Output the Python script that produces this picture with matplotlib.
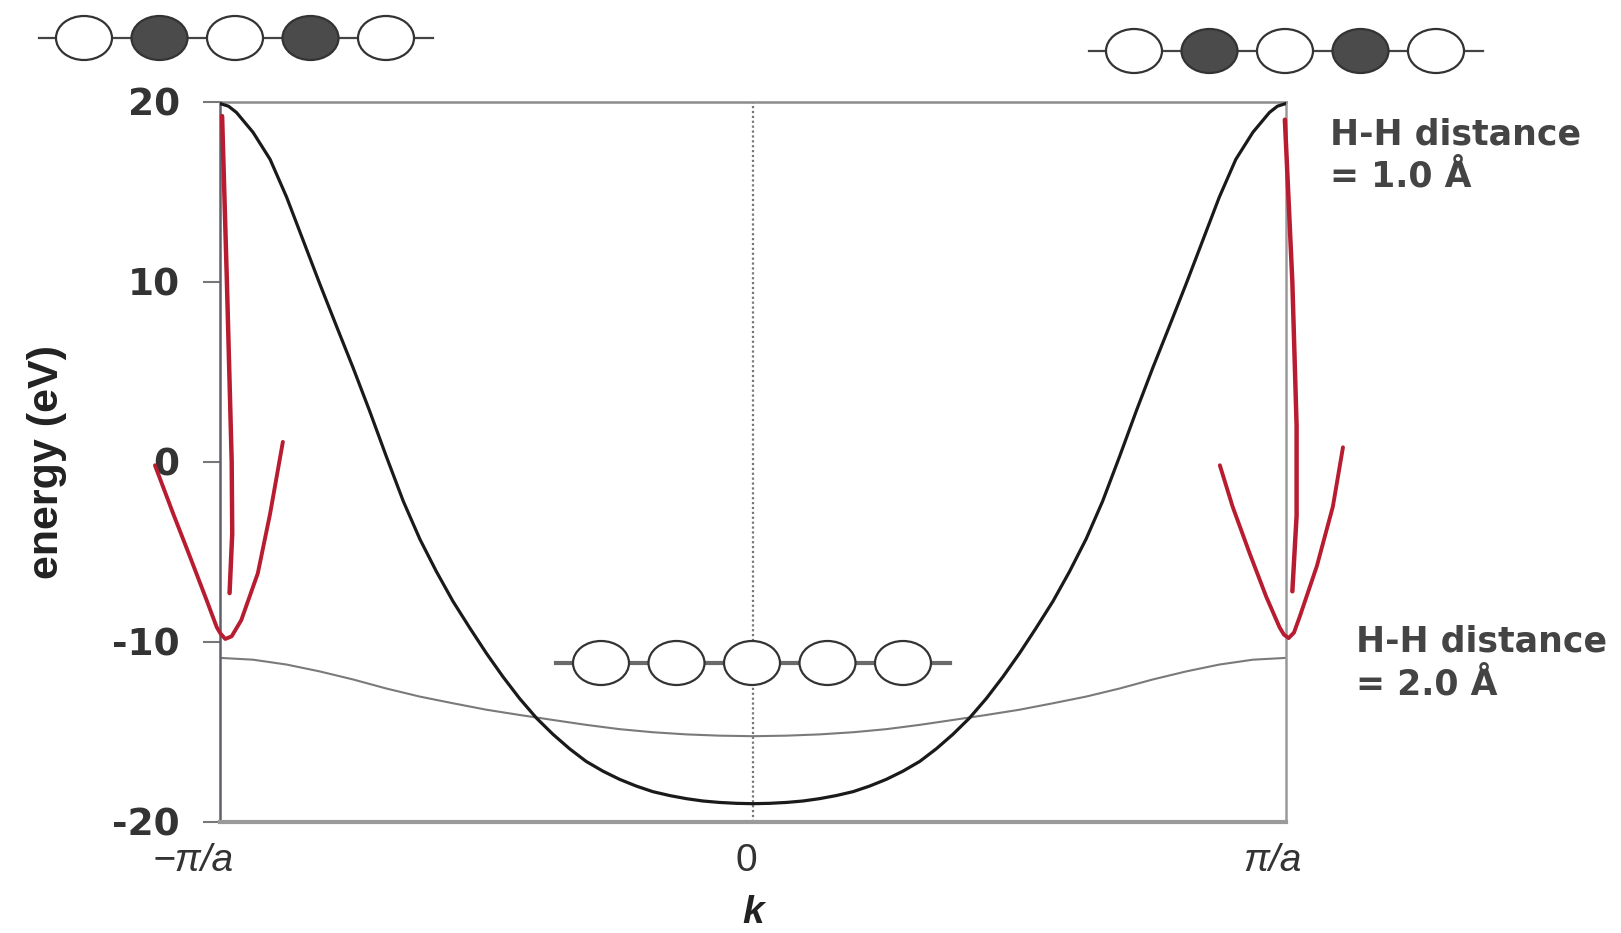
import numpy as np
import matplotlib.pyplot as plt
from matplotlib.patches import Ellipse
from matplotlib.transforms import ScaledTranslation

# band energies (eV) vs k in units of pi/a
k_black = [-1.0, -0.984, -0.969, -0.938, -0.906, -0.875, -0.844, -0.813, -0.781,
           -0.75, -0.719, -0.688, -0.656, -0.625, -0.594, -0.563, -0.531, -0.5,
           -0.469, -0.438, -0.406, -0.375, -0.344, -0.313, -0.281, -0.25, -0.219,
           -0.188, -0.156, -0.125, -0.094, -0.063, -0.031, 0.0,
           0.031, 0.063, 0.094, 0.125, 0.156, 0.188, 0.219, 0.25, 0.281, 0.313,
           0.344, 0.375, 0.406, 0.438, 0.469, 0.5, 0.531, 0.563, 0.594, 0.625,
           0.656, 0.688, 0.719, 0.75, 0.781, 0.813, 0.844, 0.875, 0.906, 0.938,
           0.969, 0.984, 1.0]
E_black = [19.9, 19.75, 19.4, 18.3, 16.8, 14.7, 12.3, 9.9, 7.5,
           5.2, 2.8, 0.3, -2.2, -4.3, -6.1, -7.75, -9.25, -10.65,
           -11.95, -13.15, -14.25, -15.15, -15.95, -16.65, -17.2, -17.65, -18.02,
           -18.33, -18.55, -18.72, -18.85, -18.93, -18.98, -19.0,
           -18.98, -18.93, -18.85, -18.72, -18.55, -18.33, -18.02, -17.65, -17.2, -16.65,
           -15.95, -15.15, -14.25, -13.15, -11.95, -10.65, -9.25, -7.75, -6.1, -4.3,
           -2.2, 0.3, 2.8, 5.2, 7.5, 9.9, 12.3, 14.7, 16.8, 18.3,
           19.4, 19.75, 19.9]

k_gray = [-1.0, -0.938, -0.875, -0.813, -0.75, -0.688, -0.625, -0.563, -0.5,
          -0.438, -0.375, -0.313, -0.25, -0.188, -0.125, -0.063, 0.0,
          0.063, 0.125, 0.188, 0.25, 0.313, 0.375, 0.438, 0.5,
          0.563, 0.625, 0.688, 0.75, 0.813, 0.875, 0.938, 1.0]
E_gray = [-10.9, -11.0, -11.27, -11.65, -12.1, -12.6, -13.05, -13.42, -13.78,
          -14.07, -14.35, -14.62, -14.86, -15.03, -15.15, -15.22, -15.25,
          -15.22, -15.15, -15.03, -14.86, -14.62, -14.35, -14.07, -13.78,
          -13.42, -13.05, -12.6, -12.1, -11.65, -11.27, -11.0, -10.9]

# red hand-drawn arrows at the zone edges (shaft + V head)
shaftL_k = [-0.996, -0.987, -0.978, -0.977, -0.982]
shaftL_E = [19.2, 10.0, 0.0, -4.0, -7.3]
headL_k = [-1.122, -1.088, -1.056, -1.025, -1.006, -0.999, -0.99, -0.978, -0.96, -0.929, -0.906, -0.882]
headL_E = [-0.2, -2.87, -5.3, -7.7, -9.2, -9.55, -9.85, -9.7, -8.8, -6.2, -2.9, 1.1]
shaftR_k = [0.998, 1.012, 1.02, 1.02, 1.012]
shaftR_E = [19.0, 10.0, 2.0, -3.0, -7.2]
headR_k = [0.876, 0.90, 0.932, 0.963, 0.988, 0.996, 1.005, 1.015, 1.026, 1.058, 1.088, 1.107]
headR_E = [-0.2, -2.5, -5.1, -7.5, -9.2, -9.6, -9.8, -9.5, -8.6, -5.8, -2.5, 0.8]

yticks = [20, 10, 0, -10, -20]
ytick_labels = ['20', '10', '0', '-10', '-20']
xticks = [-1, 0, 1]
xtick_labels = ['\u2212\u03c0/a', '0', '\u03c0/a']

# atom chains: which sites are filled
chain_top = [False, True, False, True, False]
chain_mid = [False, False, False, False, False]

fig = plt.figure(figsize=(16.21, 9.33), dpi=100)
ax = fig.add_axes([0.1357, 0.1193, 0.6576, 0.7717])

ax.axvline(0, color='#777777', lw=1.6, ls=(0, (1, 1.2)), zorder=1)
ax.plot(k_gray, E_gray, color='#7a7a7a', lw=1.5, zorder=2)
ax.plot(k_black, E_black, color='#1a1a1a', lw=2.3, zorder=3,
        solid_joinstyle='round')

red = '#b81c30'
for kk, ee in [(shaftL_k, shaftL_E), (shaftR_k, shaftR_E)]:
    ax.plot(kk, ee, color=red, lw=3.2, clip_on=False, solid_capstyle='round', zorder=5)
for kk, ee in [(headL_k, headL_E), (headR_k, headR_E)]:
    ax.plot(kk, ee, color=red, lw=2.8, clip_on=False, solid_capstyle='round',
            solid_joinstyle='round', zorder=5)

ax.set_xlim(-1, 1)
ax.set_ylim(-20, 20)

for side in ['left', 'top', 'right']:
    ax.spines[side].set_linewidth(1.8)
ax.spines['left'].set_color('#60606c')
ax.spines['top'].set_color('#8c8c8c')
ax.spines['right'].set_color('#9a9a9a')
ax.spines['bottom'].set_color('#9a9a9a')
ax.spines['bottom'].set_linewidth(3.0)

ax.set_yticks(yticks)
ax.set_yticklabels(ytick_labels, fontsize=27, fontweight='bold', color='#333333',
                   family='DejaVu Sans')
ax.tick_params(axis='y', length=12, width=1.5, color='#777777', pad=17)

ax.set_xticks(xticks)
ax.set_xticklabels(xtick_labels, fontsize=28, color='#333333', family='Liberation Sans')
ax.tick_params(axis='x', length=0, pad=15)
shifts = [-27, -7, -13]
for lab, dx in zip(ax.get_xticklabels(), shifts):
    if lab.get_text() != '0':
        lab.set_style('italic')
    lab.set_transform(lab.get_transform() + ScaledTranslation(dx / 100, 0, fig.dpi_scale_trans))

fig.text(0.4645, 0.021, 'k', fontsize=28, fontweight='bold', style='italic',
         family='Liberation Sans', color='#222222', ha='center', va='center')
fig.text(0.029, 0.505, 'energy (eV)', fontsize=31, fontweight='bold',
         family='Liberation Sans', color='#222222', rotation=90, ha='center', va='center')

fig.text(0.8205, 0.8333, 'H-H distance\n= 1.0 \u00c5', fontsize=25, fontweight='bold',
         color='#444444', ha='left', va='center', linespacing=1.3, family='DejaVu Sans')
fig.text(0.8365, 0.2894, 'H-H distance\n= 2.0 \u00c5', fontsize=25, fontweight='bold',
         color='#444444', ha='left', va='center', linespacing=1.3, family='DejaVu Sans')

# overlay in pixel coordinates for the atom chain sketches
ov = fig.add_axes([0, 0, 1, 1], zorder=10)
ov.set_xlim(0, 1621)
ov.set_ylim(933, 0)
ov.axis('off')
ov.patch.set_alpha(0)


def draw_chain(x0, y0, filled, step=75.5, line_lw=1.6, line_color='#444444'):
    xs = x0 + step * np.arange(len(filled))
    ov.plot([xs[0] - 45, xs[-1] + 47], [y0, y0], color=line_color, lw=line_lw, zorder=1)
    for x, f in zip(xs, filled):
        ov.add_patch(Ellipse((x, y0), 56, 44, facecolor='#4b4b4b' if f else 'white',
                             edgecolor='#333333', lw=1.6, zorder=2))


draw_chain(84, 38, chain_top)
draw_chain(1134, 51, chain_top)
draw_chain(601, 663, chain_mid, line_lw=3.0, line_color='#6a6a6a')

fig.savefig('out.png', dpi=100)
